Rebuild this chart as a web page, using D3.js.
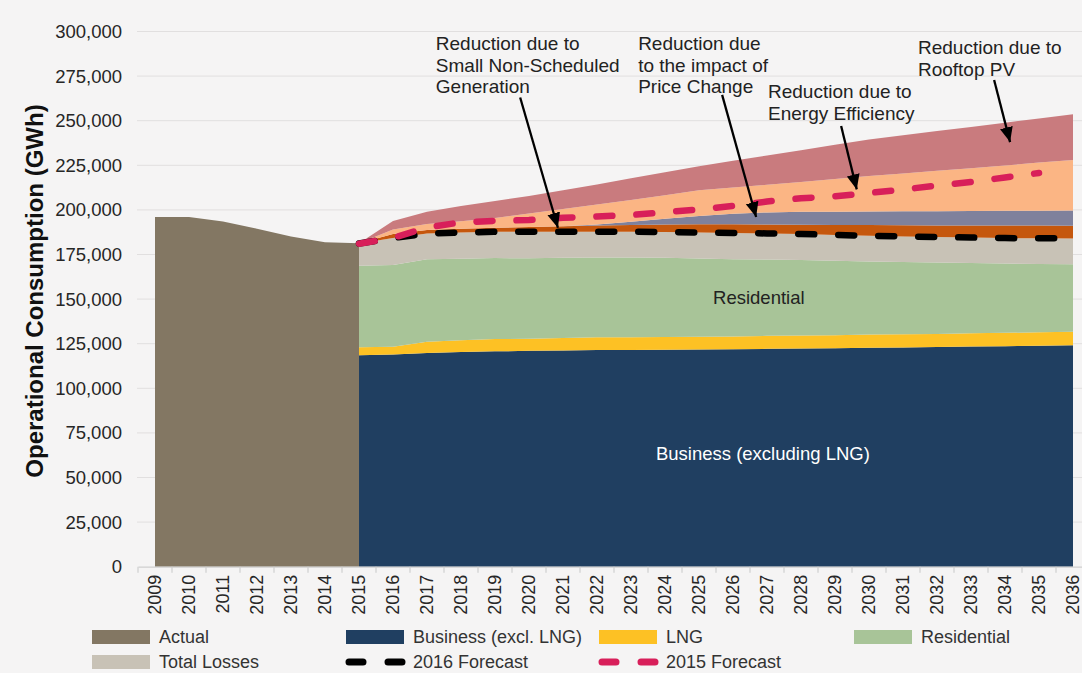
<!DOCTYPE html>
<html><head><meta charset="utf-8">
<script src="https://cdn.jsdelivr.net/npm/d3@7"></script>
<style>
body{margin:0;background:#f5f4f4;}
svg{display:block;font-family:"Liberation Sans",Arial,sans-serif;}
</style>
</head><body>
<svg id="chart" width="1082" height="673"></svg>
<script>
// ---------------- DATA ----------------
const years = [2009,2010,2011,2012,2013,2014,2015,2016,2017,2018,2019,2020,2021,2022,2023,2024,2025,2026,2027,2028,2029,2030,2031,2032,2033,2034,2035,2036];
const actualYears = [2009,2010,2011,2012,2013,2014,2015];
const actual = [196000,196000,193500,189500,185100,181800,181300];

const forecastYears = [2015,2016,2017,2018,2019,2020,2021,2022,2023,2024,2025,2026,2027,2028,2029,2030,2031,2032,2033,2034,2035,2036];
const business    = [118500,119000,119800,120300,120700,121000,121200,121400,121500,121600,121700,121900,122100,122300,122500,122700,122900,123100,123400,123600,123900,124200];
const lng         = [4500,4300,6300,6600,6900,6800,7000,7200,7100,7200,7200,7200,7300,7300,7300,7400,7400,7400,7500,7500,7500,7500];
const residential = [45700,45800,46200,45700,45400,45100,45000,44700,44700,44400,43800,43300,42800,42300,41700,41000,40500,40000,39300,38800,38300,37800];
const totalLosses = [12500,15100,14500,14700,14700,14900,14600,14500,14500,14400,14600,14700,14600,14600,14500,14400,14300,14300,14300,14300,14400,14500];
const smallNonScheduled = [100,2300,1900,2100,2300,2600,3000,3400,3700,4200,4700,4800,5000,5200,5600,6000,6300,6500,6800,7000,7100,7100];
const priceChange       = [0,0,0,0,0,0,0,600,1800,3200,4600,5900,6800,7200,7400,7600,7800,8000,8100,8300,8300,8500];
const energyEfficiency  = [0,2500,3400,4200,5400,7600,9700,11200,12300,13200,14400,14800,15500,16800,18300,19900,21200,22600,24000,25400,27000,28400];
const rooftopPV         = [0,4800,6900,8600,9600,9800,10500,11300,12100,12900,13500,14900,16400,17800,19200,20400,21400,22300,23100,24000,24700,25600];

const forecast2016 = [181200,184200,186800,187300,187700,187800,187800,187800,187800,187600,187300,187100,186800,186500,186000,185500,185100,184800,184500,184200,184100,184000];
const forecast2015Years = [2015,2016,2017,2018,2019,2020,2021,2022,2023,2024,2025,2026,2027,2028,2029,2030,2031,2032,2033,2034,2035];
const forecast2015 = [181000,184300,190200,193000,193900,194300,195600,196300,197100,198800,200200,202200,204700,206500,207600,209500,211400,213700,215600,218200,220700];

const yTicks = [0,25000,50000,75000,100000,125000,150000,175000,200000,225000,250000,275000,300000];

const layerKeys   = ["business","lng","residential","losses","nsg","price","ee","pv"];
const layerColors = ["#203f61","#fdc124","#a8c498","#c8c2b6","#c5570d","#7f819c","#fbb584","#c97b7e"];

const legendRow1 = [
  {label:"Actual", type:"rect", color:"#837763"},
  {label:"Business (excl. LNG)", type:"rect", color:"#203f61"},
  {label:"LNG", type:"rect", color:"#fdc124"},
  {label:"Residential", type:"rect", color:"#a8c498"}
];
const legendRow2 = [
  {label:"Total Losses", type:"rect", color:"#c8c2b6"},
  {label:"2016 Forecast", type:"line", color:"#000000"},
  {label:"2015 Forecast", type:"line", color:"#d81f5a"}
];

// annotations, in data coordinates (year, GWh)
const annotations = [
  {lines:["Reduction due to","Small Non-Scheduled","Generation"], tx:2017.26, tv:289700, from:[2019.74,263000], to:[2020.85,190000]},
  {lines:["Reduction due","to the impact of","Price Change"], tx:2023.21, tv:289700, from:[2025.68,264500], to:[2026.68,196000]},
  {lines:["Reduction due to","Energy Efficiency"], tx:2027.03, tv:262800, from:[2029.18,247000], to:[2029.64,211500]},
  {lines:["Reduction due to","Rooftop PV"], tx:2031.44, tv:287400, from:[2033.68,272800], to:[2034.15,238000]}
];

// ---------------- CHART ----------------
const svg = d3.select("#chart");
const W = 1082, H = 673;
svg.append("rect").attr("width",W).attr("height",H).attr("fill","#f5f4f4");

const x = d3.scaleBand().domain(years).range([138, 138 + 34*years.length]).padding(0);
const xc = yr => x(yr) + x.bandwidth()/2;
const xl = d3.scaleLinear().domain([2009,2036]).range([xc(2009), xc(2036)]);
const y = d3.scaleLinear().domain([0,300000]).range([566.7, 31.5]);

// grid
svg.append("g").selectAll("line").data(yTicks.filter(d=>d>0)).join("line")
  .attr("x1",137).attr("x2",W).attr("y1",d=>y(d)).attr("y2",d=>y(d))
  .attr("stroke","#e1dfdf").attr("stroke-width",1);

// actual area
svg.append("path")
  .datum(actualYears.map((yr,i)=>({yr, v:actual[i]})))
  .attr("fill","#837763")
  .attr("d", d3.area().x(d=>xc(d.yr)).y0(y(0)).y1(d=>y(d.v)));

// stacked forecast layers
const rows = forecastYears.map((yr,i)=>({
  yr, business:business[i], lng:lng[i], residential:residential[i], losses:totalLosses[i],
  nsg:smallNonScheduled[i], price:priceChange[i], ee:energyEfficiency[i], pv:rooftopPV[i]
}));
const series = d3.stack().keys(layerKeys)(rows);
const area = d3.area().x(d=>xc(d.data.yr)).y0(d=>y(d[0])).y1(d=>y(d[1]));
svg.append("g").selectAll("path").data(series).join("path")
  .attr("fill",(d,i)=>layerColors[i]).attr("d",area);

// forecast lines
const line = d3.line().x(d=>xc(d.yr)).y(d=>y(d.v));
svg.append("path")
  .datum(forecastYears.map((yr,i)=>({yr, v:forecast2016[i]})))
  .attr("fill","none").attr("stroke","#000").attr("stroke-width",6.5)
  .attr("stroke-linecap","round").attr("stroke-dasharray","16,24").attr("d",line);
svg.append("path")
  .datum(forecast2015Years.map((yr,i)=>({yr, v:forecast2015[i]})))
  .attr("fill","none").attr("stroke","#d81f5a").attr("stroke-width",6.5)
  .attr("stroke-linecap","round").attr("stroke-dasharray","16,24").attr("d",line);

// y axis
const yAxis = svg.append("g").attr("transform","translate(137,0)")
  .call(d3.axisLeft(y).tickValues(yTicks).tickFormat(d3.format(",")).tickSize(0).tickPadding(15));
yAxis.select(".domain").remove();
yAxis.selectAll("text").attr("font-size",18.5).attr("fill","#262626")
  .attr("font-family","'Liberation Sans',Arial,sans-serif");

// x axis
const xAxisG = svg.append("g").attr("transform",`translate(0,${y(0)})`)
  .call(d3.axisBottom(x).tickSize(0));
xAxisG.select(".domain").attr("stroke","#cfcfcf").attr("stroke-width",1.2);
xAxisG.selectAll("text")
  .attr("transform","rotate(-90)").attr("text-anchor","end")
  .attr("x",-8).attr("y",0).attr("dy","0.36em")
  .attr("font-size",18).attr("fill","#262626")
  .attr("font-family","'Liberation Sans',Arial,sans-serif");
svg.append("g").selectAll("line").data(years.concat([null])).join("line")
  .attr("x1",d=> d===null ? x.range()[1] : x(d)).attr("x2",d=> d===null ? x.range()[1] : x(d))
  .attr("y1",y(0)).attr("y2",y(0)+6).attr("stroke","#cfcfcf").attr("stroke-width",1.2);

// y axis title
svg.append("text").attr("transform","translate(43,291) rotate(-90)")
  .attr("text-anchor","middle").attr("font-size",24).attr("font-weight","bold").attr("fill","#111")
  .text("Operational Consumption (GWh)");

// inner labels
svg.append("text").attr("x",xl(2026.76)).attr("y",y(147000)).attr("text-anchor","middle")
  .attr("font-size",18.5).attr("fill","#222").text("Residential");
svg.append("text").attr("x",xl(2026.88)).attr("y",y(60000)).attr("text-anchor","middle")
  .attr("font-size",18.5).attr("fill","#ffffff").text("Business (excluding LNG)");

// annotations
const defs = svg.append("defs");
defs.append("marker").attr("id","ah").attr("markerUnits","userSpaceOnUse")
  .attr("markerWidth",16).attr("markerHeight",16).attr("viewBox","0 -8 16 16")
  .attr("refX",15).attr("refY",0).attr("orient","auto")
  .append("path").attr("d","M0,-6.5L15,0L0,6.5Z").attr("fill","#000");
const ag = svg.append("g");
annotations.forEach(a=>{
  const t = ag.append("text").attr("x",xl(a.tx)).attr("y",y(a.tv))
    .attr("font-size",19).attr("fill","#222");
  a.lines.forEach((l,i)=>t.append("tspan").attr("x",xl(a.tx)).attr("dy", i===0?0:21.7).text(l));
  ag.append("line").attr("x1",xl(a.from[0])).attr("y1",y(a.from[1]))
    .attr("x2",xl(a.to[0])).attr("y2",y(a.to[1]))
    .attr("stroke","#000").attr("stroke-width",2.3).attr("marker-end","url(#ah)");
});

// legend
function drawLegend(items, xs, cy){
  items.forEach((it,i)=>{
    const x0 = xs[i];
    if(it.type==="rect"){
      svg.append("rect").attr("x",x0).attr("y",cy-7).attr("width",58).attr("height",14).attr("fill",it.color);
    } else {
      svg.append("line").attr("x1",x0+3).attr("x2",x0+56).attr("y1",cy).attr("y2",cy)
        .attr("stroke",it.color).attr("stroke-width",7).attr("stroke-linecap","round")
        .attr("stroke-dasharray","14,25");
    }
    svg.append("text").attr("x",x0+67).attr("y",cy).attr("dy","0.35em")
      .attr("font-size",18).attr("fill","#333").text(it.label);
  });
}
drawLegend(legendRow1,[92,346,599,854],637);
drawLegend(legendRow2,[92,346,599],662);
</script>
</body></html>
